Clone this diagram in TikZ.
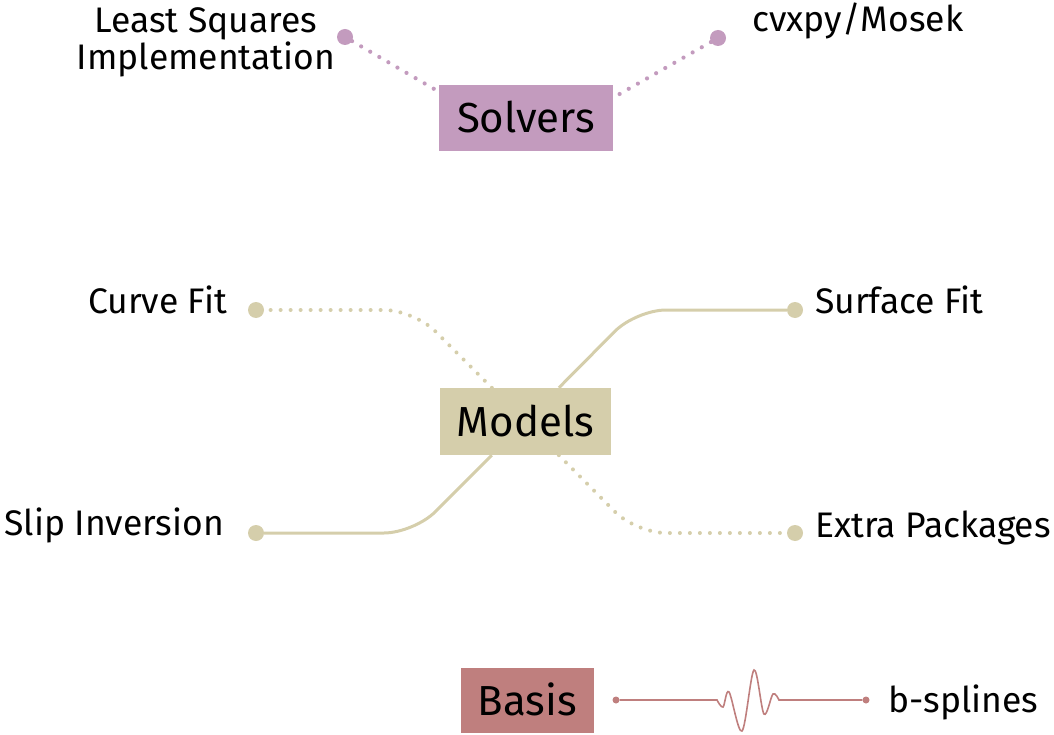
\documentclass[tikz,border=0pt]{standalone}
\usepackage{fontspec}
\setmainfont{Fira Sans}
\usetikzlibrary{calc}
\definecolor{solv}{HTML}{C39BBE}
\definecolor{modl}{HTML}{D5CEAB}
\definecolor{basc}{HTML}{BF7F7E}
\begin{document}
\begin{tikzpicture}[x=1pt,y=-1pt,
  box/.style={inner xsep=0pt, inner ysep=0pt, minimum height=66pt, text height=30pt, text depth=0pt,
              font=\fontsize{42}{50}\selectfont},
  lbl/.style={font=\fontsize{35.5}{37}\selectfont, inner sep=0pt},
  dotnode/.style={circle, inner sep=0pt, minimum size=16pt},
  smalldot/.style={circle, inner sep=0pt, minimum size=7pt, fill=basc},
  sline/.style={solv, line width=4.2pt, line cap=round, dash pattern=on 0pt off 10.5pt},
  mdotted/.style={modl, line width=4pt, line cap=round, dash pattern=on 0pt off 10pt, rounded corners=30pt},
  msolid/.style={modl, line width=3pt, rounded corners=30pt},
  wave/.style={basc, line width=1.6pt}]
\useasboundingbox (0,0) rectangle (1054,735);

% Solvers
\node[box, fill=solv, minimum width=174pt] (solvers) at (526,118) {Solvers};
\node[dotnode, fill=solv] (dls) at (345,37) {};
\node[dotnode, fill=solv] (dcv) at (718,38) {};
\node[lbl, align=center, anchor=base] (lls) at (206,70) {Least Squares\\Implementation};
\node[lbl, anchor=base west] (lcv) at (752,32) {cvxpy/Mosek};
\draw[sline] (dls) -- ($(solvers.north west)+(-5,4)$);
\draw[sline] (dcv) -- ($(solvers.north east)+(5,10)$);

% Models
\node[box, fill=modl, minimum width=171pt, minimum height=67pt] (models) at (525.5,421.5) {Models};
\node[dotnode, fill=modl] (dcf) at (256,310) {};
\node[dotnode, fill=modl] (dsf) at (795,310) {};
\node[dotnode, fill=modl] (dsi) at (256,533) {};
\node[dotnode, fill=modl] (dep) at (795,533) {};
\node[lbl, anchor=base east] (lcf) at (227,313) {Curve Fit};
\node[lbl, anchor=base west] (lsf) at (815,313) {Surface Fit};
\node[lbl, anchor=base east] (lsi) at (224,535) {Slip Inversion};
\node[lbl, anchor=base west] (lep) at (815,537) {Extra Packages};
\draw[mdotted] (models) -- (414,310) -- (dcf);
\draw[msolid] (models) -- (636,310) -- (dsf);
\draw[msolid] (models) -- (414,533) -- (dsi);
\draw[mdotted] (models) -- (636,533) -- (dep);

% Basis
\node[box, fill=basc, minimum width=133pt, minimum height=65pt] (basis) at (527.5,700.5) {Basis};
\node[smalldot] (bl) at (616,700) {};
\node[smalldot] (br) at (866,700) {};
\node[lbl, anchor=base west] (lbs) at (888,712) {b-splines};
\draw[wave] (bl) -- (717,700)
  -- plot[smooth, tension=0.55] coordinates {(717,700) (723,707) (729,692) (742,731) (754,670) (764,714) (773,694) (779,700)}
  -- (br);
\end{tikzpicture}
\end{document}
